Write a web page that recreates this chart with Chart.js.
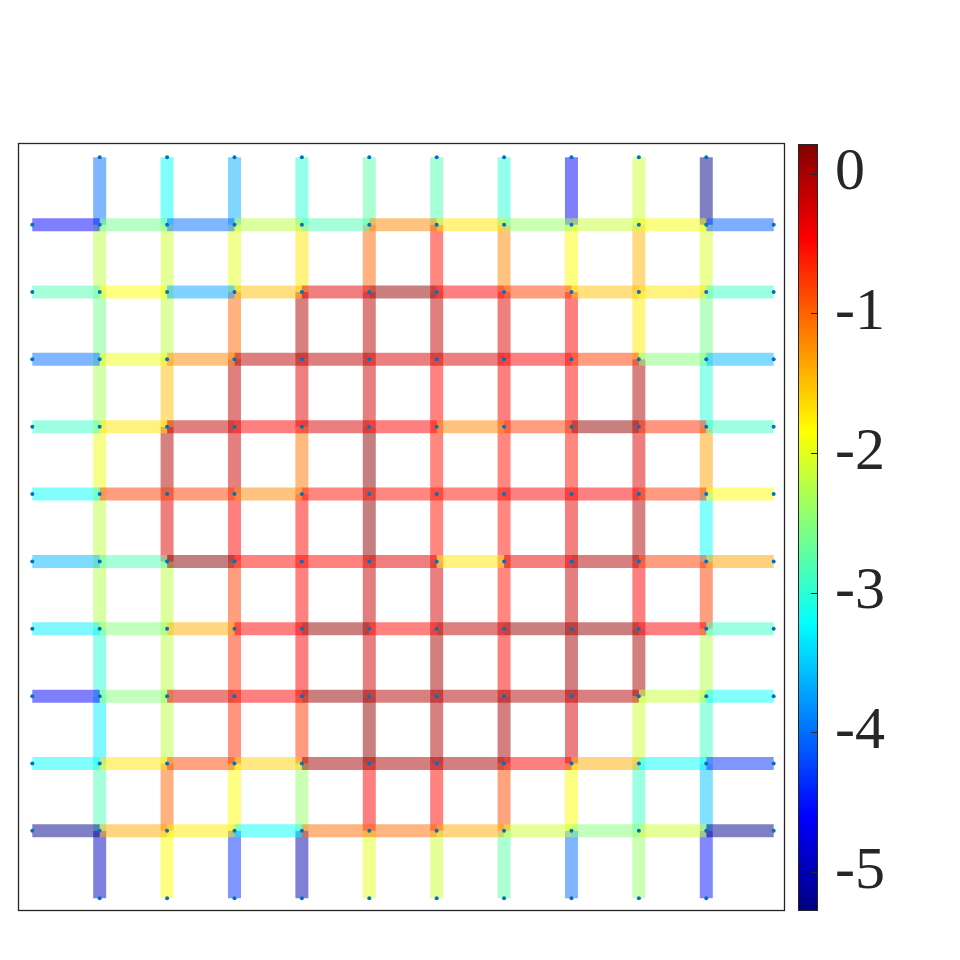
<!DOCTYPE html>
<html>
<head>
<meta charset="utf-8">
<script src="https://cdn.jsdelivr.net/npm/chart.js@4.4.0/dist/chart.umd.min.js"></script>
<style>
html,body{margin:0;padding:0;background:#ffffff;}
#wrap{width:960px;height:960px;}
</style>
</head>
<body>
<div id="wrap"><canvas id="c" width="960" height="960"></canvas></div>
<script>
// Horizontal edges, one row per grid row (top to bottom):
// [left stub, col1-2, col2-3, ..., col9-10, right stub]
const hValues = [
  [-4.6, -2.6, -4.0, -2.2, -2.8, -1.2, -1.7, -2.4, -2.15, -1.9, -4.1],
  [-2.8, -1.85, -3.7, -1.5, -0.3, 0.1, -0.45, -0.8, -1.5, -1.7, -2.9],
  [-4.0, -1.95, -1.2, -0.1, -0.1, -0.25, -0.25, -0.45, -0.8, -2.5, -3.6],
  [-2.9, -1.7, -0.15, -0.45, -0.25, -0.45, -1.2, -0.8, 0.1, -0.7, -2.9],
  [-3.2, -0.8, -0.8, -1.2, -0.55, -0.55, -0.55, -0.45, -0.45, -0.75, -1.85],
  [-3.6, -2.8, 0.2, -0.5, -0.5, -0.3, -1.7, -0.35, -0.05, -0.8, -1.35],
  [-3.3, -2.5, -1.4, -0.45, 0.1, -0.5, -0.1, 0.1, 0.1, -0.45, -2.9],
  [-4.6, -2.5, -0.25, -0.45, 0.1, -0.05, -0.05, -0.05, -0.05, -2.15, -3.2],
  [-3.2, -1.7, -0.85, -1.6, 0.05, 0.0, 0.0, -0.45, -1.4, -3.2, -4.35],
  [-5.2, -1.4, -1.75, -3.2, -1.05, -1.05, -1.4, -2.1, -2.5, -2.1, -5.2]
];
// Vertical edges, one list per grid column (left to right):
// [top stub, row1-2, row2-3, ..., row9-10, bottom stub]
const vValues = [
  [-4.0, -2.2, -2.6, -2.3, -1.95, -2.2, -2.25, -3.0, -3.3, -2.8, -4.9],
  [-3.2, -2.1, -2.2, -1.5, -0.05, -0.3, -2.2, -2.2, -2.2, -1.0, -1.85],
  [-3.65, -2.0, -1.0, -0.15, -0.2, -0.47, -0.8, -0.7, -0.7, -1.85, -4.35],
  [-3.0, -1.7, -0.05, -0.3, -1.1, -0.5, -0.5, -0.45, -0.75, -2.4, -5.05],
  [-2.75, -1.0, -0.1, -0.2, 0.15, 0.15, -0.15, -0.2, 0.1, -0.45, -2.0],
  [-2.8, -0.55, -0.15, -0.5, -0.55, -0.55, -0.25, 0.0, -0.05, -0.5, -2.1],
  [-3.0, -1.2, -0.3, -0.45, -0.55, -0.55, -0.55, -0.45, 0.0, -0.85, -2.75],
  [-4.6, -1.85, -0.45, -0.5, -0.55, -0.35, -0.2, 0.0, -0.25, -1.85, -4.0],
  [-2.1, -1.45, -1.75, -0.05, -0.3, -0.05, -0.45, 0.0, -2.1, -2.9, -2.4],
  [-5.25, -2.05, -2.6, -3.0, -1.35, -3.2, -0.8, -2.25, -2.9, -3.55, -4.5]
];
const colorbarTicks = [0, -1, -2, -3, -4, -5];
const colorMin = -5.28;
const colorMax = 0.22;

function clamp01(v) { return Math.max(0, Math.min(1, v)); }
function jet(f) {
  f = clamp01(f);
  const r = clamp01(Math.min(4 * f - 1.5, -4 * f + 4.5));
  const g = clamp01(Math.min(4 * f - 0.5, -4 * f + 3.5));
  const b = clamp01(Math.min(4 * f + 0.5, -4 * f + 2.5));
  return [Math.round(r * 255), Math.round(g * 255), Math.round(b * 255)];
}
function valueColor(v, a) {
  const c = jet((v - colorMin) / (colorMax - colorMin));
  return 'rgba(' + c[0] + ',' + c[1] + ',' + c[2] + ',' + a + ')';
}

const nRows = hValues.length;
const nCols = vValues.length;

// node dots (grid nodes and stub ends)
const dots = [];
for (let j = 1; j <= nRows; j++) {
  for (let k = 0; k <= nCols + 1; k++) dots.push({x: k, y: j});
}
for (let i = 1; i <= nCols; i++) {
  dots.push({x: i, y: 0});
  dots.push({x: i, y: nRows + 1});
}

const datasets = [{
  data: dots,
  showLine: false,
  pointRadius: 2,
  pointBorderWidth: 0,
  pointBackgroundColor: '#0072BD',
  pointBorderColor: '#0072BD'
}];

function edge(p0, p1, v) {
  return {
    data: [p0, p1],
    showLine: true,
    borderColor: valueColor(v, 0.5),
    borderWidth: 13,
    borderCapStyle: 'butt',
    pointRadius: 0,
    fill: false
  };
}
hValues.forEach((row, r) => {
  const y = r + 1;
  row.forEach((v, k) => datasets.push(edge({x: k, y: y}, {x: k + 1, y: y}, v)));
});
vValues.forEach((col, c) => {
  const x = c + 1;
  col.forEach((v, k) => datasets.push(edge({x: x, y: k}, {x: x, y: k + 1}, v)));
});

const frameColor = '#262626';

const decorPlugin = {
  id: 'decor',
  afterDraw(chart) {
    const ctx = chart.ctx;
    const a = chart.chartArea;
    ctx.save();
    // axes box
    ctx.strokeStyle = frameColor;
    ctx.lineWidth = 1.3;
    ctx.strokeRect(a.left + 0.5, a.top + 0.5, a.right - a.left - 1, a.bottom - a.top - 1);
    // colorbar
    const cb = chart.scales.cb;
    const x0 = a.right + 13;
    const w = 20;
    const yTop = cb.getPixelForValue(colorMax) + 1;
    const yBot = cb.getPixelForValue(colorMin);
    const grad = ctx.createLinearGradient(0, yBot, 0, yTop);
    const stops = [0, 0.125, 0.25, 0.375, 0.5, 0.625, 0.75, 0.875, 1];
    stops.forEach(s => {
      const c = jet(s);
      grad.addColorStop(s, 'rgb(' + c[0] + ',' + c[1] + ',' + c[2] + ')');
    });
    ctx.fillStyle = grad;
    ctx.fillRect(x0, yTop, w, yBot - yTop);
    ctx.strokeStyle = frameColor;
    ctx.lineWidth = 1;
    ctx.strokeRect(x0 + 0.5, yTop + 0.5, w - 1, yBot - yTop - 1);
    // colorbar ticks (inside, right edge)
    ctx.beginPath();
    colorbarTicks.forEach(t => {
      const y = Math.round(cb.getPixelForValue(t)) + 0.5;
      ctx.moveTo(x0 + w - 1, y);
      ctx.lineTo(x0 + w - 7, y);
    });
    ctx.stroke();
    ctx.restore();
  }
};

new Chart(document.getElementById('c'), {
  type: 'scatter',
  data: { datasets: datasets },
  options: {
    responsive: false,
    animation: false,
    events: [],
    layout: { padding: { left: 18, top: 143, right: 0, bottom: 49 } },
    plugins: { legend: { display: false }, tooltip: { enabled: false } },
    scales: {
      x: { type: 'linear', min: -0.212, max: 11.168, display: false },
      y: { type: 'linear', min: -0.212, max: 11.19, reverse: true, display: false },
      cb: {
        type: 'linear',
        position: 'right',
        min: colorMin,
        max: colorMax,
        grid: { display: false, drawTicks: false },
        border: { display: false },
        afterBuildTicks: s => { s.ticks = colorbarTicks.map(v => ({ value: v })); },
        afterFit: s => {
          s.width = 175;
          s.paddingTop = 0;
          s.paddingBottom = 0;
          s.paddingLeft = 0;
          s.paddingRight = 0;
        },
        ticks: {
          padding: 50,
          color: frameColor,
          autoSkip: false,
          font: { family: "'Liberation Serif', 'Times New Roman', serif", size: 60 },
          callback: v => String(v)
        }
      }
    }
  },
  plugins: [decorPlugin]
});
</script>
</body>
</html>
